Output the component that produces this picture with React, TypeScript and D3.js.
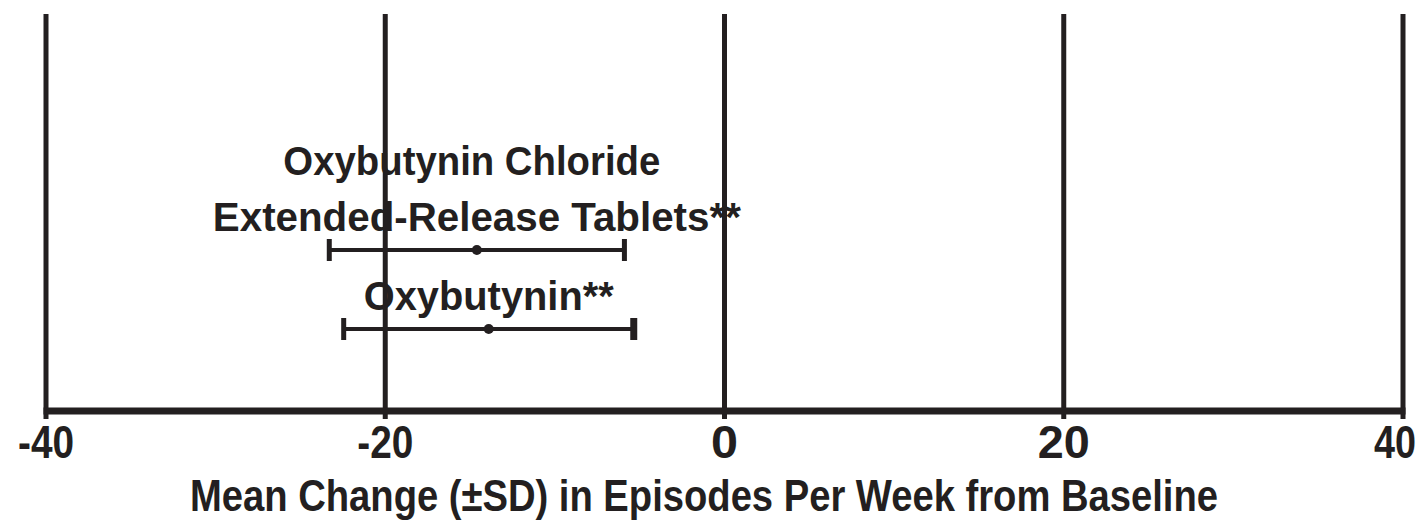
import React from "react";
import * as d3 from "d3";

// data
const treatments = ["Oxybutynin Chloride ER", "Oxybutynin"];
const labelLines = [
  ["Oxybutynin Chloride", "Extended-Release Tablets**"],
  ["Oxybutynin**"],
];
const means = [-14.6, -13.9];
const sds = [8.7, 8.55];
const xTicks = [-40, -20, 0, 20, 40];
const xTitle = "Mean Change (\u00b1SD) in Episodes Per Week from Baseline";

const W = 1424;
const H = 523;
const INK = "#231f20";
const FONT = "'Liberation Sans Narrow', 'Liberation Sans', Arial, sans-serif";

const App = () => {
  const x = d3.scaleLinear().domain([-40, 40]).range([46, 1403]);
  const y = d3.scalePoint<string>().domain(treatments).range([250, 329]);
  const axisY = 411;
  const gridTop = 14;

  // measured text widths in the picture, used to squeeze the narrow type
  const lineWidths: Record<string, number> = {
    "Oxybutynin Chloride": 377,
    "Extended-Release Tablets**": 528,
    "Oxybutynin**": 250,
  };

  const last = xTicks[xTicks.length - 1];

  return (
    <svg
      width={W}
      height={H}
      style={{ position: "absolute", left: 0, top: 0, background: "#fff" }}
    >
      {/* vertical grid lines */}
      {xTicks.map((t) => (
        <line
          key={"g" + t}
          x1={x(t)}
          x2={x(t)}
          y1={gridTop}
          y2={axisY + 8}
          stroke={INK}
          strokeWidth={5}
        />
      ))}

      {/* x axis line */}
      <line
        x1={x(-40) - 2.5}
        x2={x(40) + 2.5}
        y1={axisY}
        y2={axisY}
        stroke={INK}
        strokeWidth={7}
      />

      {/* tick labels */}
      {xTicks.map((t) => (
        <text
          key={"t" + t}
          x={t === last ? 1416 : x(t)}
          y={458}
          textAnchor={t === last ? "end" : "middle"}
          fontFamily="'Liberation Sans', Arial, sans-serif"
          fontWeight="bold"
          fontSize={46}
          fill={INK}
          textLength={t < 0 ? 56 : t === 0 ? 27 : t === last ? 42 : 52}
          lengthAdjust="spacingAndGlyphs"
        >
          {t < 0 ? "-" + Math.abs(t) : t}
        </text>
      ))}

      {/* error bars */}
      {treatments.map((name, i) => {
        const cy = y(name) as number;
        const lo = x(means[i] - sds[i]);
        const hi = x(means[i] + sds[i]);
        return (
          <g key={name}>
            <line x1={lo} x2={hi} y1={cy} y2={cy} stroke={INK} strokeWidth={4} />
            <line x1={lo} x2={lo} y1={cy - 11} y2={cy + 11} stroke={INK} strokeWidth={5} />
            <line x1={hi} x2={hi} y1={cy - 11} y2={cy + 11} stroke={INK} strokeWidth={i === 1 ? 7 : 5} />
            <circle cx={x(means[i])} cy={cy} r={5} fill={INK} />
            {labelLines[i].map((ln, j) => (
              <text
                key={ln}
                x={x(means[i]) - (j === 0 && labelLines[i].length > 1 ? 5 : 0)}
                y={cy - 19 - (labelLines[i].length - 1 - j) * 56}
                textAnchor="middle"
                fontFamily={FONT}
                fontWeight="bold"
                fontSize={41}
                fill={INK}
                textLength={lineWidths[ln]}
                lengthAdjust="spacingAndGlyphs"
              >
                {ln}
              </text>
            ))}
          </g>
        );
      })}

      {/* axis title */}
      <text
        x={704}
        y={511}
        textAnchor="middle"
        fontFamily={FONT}
        fontWeight="bold"
        fontSize={44}
        fill={INK}
        textLength={1028}
        lengthAdjust="spacingAndGlyphs"
      >
        {xTitle}
      </text>
    </svg>
  );
};

export default App;
